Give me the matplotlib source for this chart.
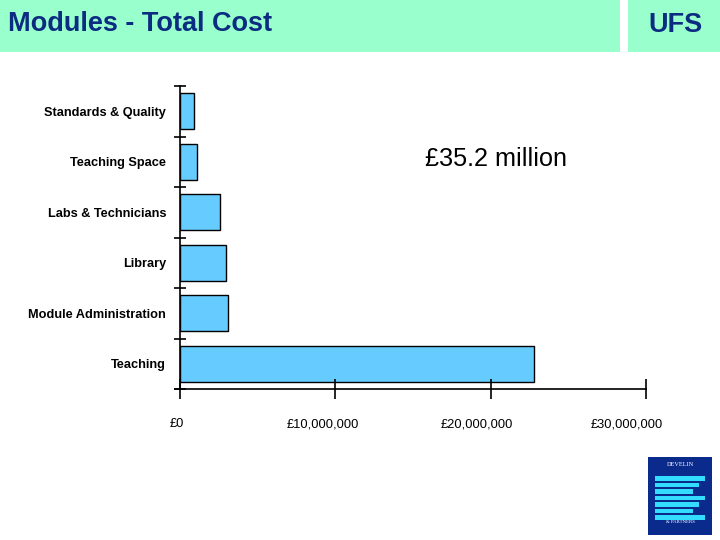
import matplotlib
matplotlib.use("Agg")
import matplotlib.pyplot as plt
import matplotlib.transforms as mtransforms
from matplotlib.patches import Rectangle
from matplotlib.ticker import FuncFormatter

# data, top to bottom
categories = ["Standards & Quality", "Teaching Space", "Labs & Technicians",
              "Library", "Module Administration", "Teaching"]
costs = [920000, 1120000, 2600000, 2990000, 3120000, 22800000]
x_ticks = [0, 10000000, 20000000, 30000000]
title = "Modules - Total Cost"
tag = "UFS"
total_label = "£35.2 million"

plt.rcParams['font.family'] = ['Liberation Sans', 'DejaVu Sans']

fig = plt.figure(figsize=(7.2, 5.4), dpi=100)
fig.patch.set_facecolor("white")

# header bands
band = "#99FFCC"
fig.patches.append(Rectangle((0, 1 - 52/540), 620/720, 52/540, transform=fig.transFigure,
                             facecolor=band, edgecolor="none"))
fig.patches.append(Rectangle((628/720, 1 - 52/540), 92/720, 52/540, transform=fig.transFigure,
                             facecolor=band, edgecolor="none"))
fig.text(8/720, 1 - 24/540, title, fontsize=19.5, fontweight="bold", color="#0B2C80",
         va="center", ha="left")
fig.text(675/720, 1 - 25/540, tag, fontsize=19.5, fontweight="bold", color="#0B2C80",
         va="center", ha="center")

ax = fig.add_axes([180/720, 1 - 389/540, 466/720, 303/540])
n = len(categories)
ypos = [n - 1 - i + 0.5 for i in range(n)]
ax.barh(ypos, costs, height=0.71, color="#66CCFF", edgecolor="black", linewidth=1)

ax.set_xlim(0, 30000000)
ax.set_ylim(0, n)
for s in ["top", "right"]:
    ax.spines[s].set_visible(False)
for s in ["left", "bottom"]:
    ax.spines[s].set_linewidth(1.2)
ax.spines["bottom"].set_bounds(-320000, 30000000)

ax.set_xticks(x_ticks)
ax.xaxis.set_major_formatter(FuncFormatter(lambda v, p: "£{:,.0f}".format(v)))
ax.tick_params(axis="x", direction="inout", length=14, width=1.2, pad=14, labelsize=9.3)
# the labels sit a little left of their ticks in the original
for lab, dx in zip(ax.get_xticklabels(), [-3, -12, -14, -19]):
    lab.set_transform(lab.get_transform() +
                      mtransforms.ScaledTranslation(dx / 100, 0, fig.dpi_scale_trans))

# boundary ticks on y, labels at the centres
ax.set_yticks(range(n + 1))
ax.set_yticklabels([])
ax.tick_params(axis="y", which="major", direction="inout", length=9, width=1.2)
ax.set_yticks(ypos, minor=True)
ax.set_yticklabels(categories, minor=True, fontsize=9.2, fontweight="bold")
ax.tick_params(axis="y", which="minor", length=0, pad=10)

fig.text(425/720, 1 - 159/540, total_label, fontsize=18.2, color="black",
         va="center", ha="left")

# logo block
fig.patches.append(Rectangle((648/720, 1 - 535/540), 64/720, 78/540, transform=fig.transFigure,
                             facecolor="#0A2A8C", edgecolor="none"))
for k in range(7):
    y0 = 1 - (476 + k * 6.5) / 540
    w = (50 - (k % 3) * 6) / 720
    fig.patches.append(Rectangle((655/720, y0 - 4.5/540), w, 4.5/540, transform=fig.transFigure,
                                 facecolor="#33DDFF", edgecolor="none"))
fig.text(680/720, 1 - 465/540, "DEVELIN", fontsize=4.5, color="white", family="Liberation Serif",
         ha="center", va="center")
fig.text(680/720, 1 - 522/540, "& PARTNERS", fontsize=3.5, color="white", family="Liberation Serif",
         ha="center", va="center")

fig.savefig("out.png", dpi=100)
